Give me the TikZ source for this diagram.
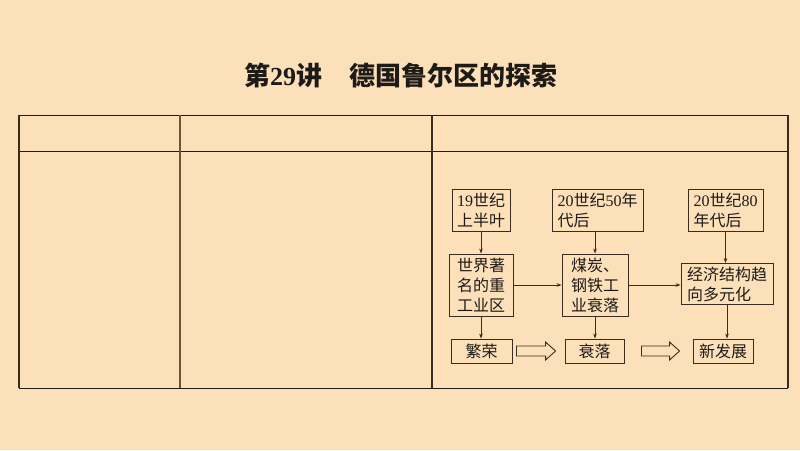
\documentclass[tikz,border=0pt]{standalone}
\usepackage{fontspec}
\setmainfont{Liberation Serif}
\newfontfamily\cjk{Noto Sans CJK SC}
\usetikzlibrary{arrows.meta,calc}
\definecolor{bg}{HTML}{FCE0BA}
\definecolor{ink}{HTML}{1E1A16}
\definecolor{boxline}{HTML}{3A2C1E}
\definecolor{vline}{HTML}{6B5535}
\begin{document}
\begin{tikzpicture}[x=1pt,y=-1pt,
  fbox/.style={draw=boxline,line width=0.9pt,text=ink,align=left,inner sep=0pt,
    font=\cjk\fontsize{16}{20}\selectfont},
  conn/.style={draw=boxline,line width=0.8pt,-{Stealth[length=5pt,width=3.6pt]}},
  hline/.style={draw=ink,line width=0.8pt},
  vrule/.style={draw=vline,line width=1.3pt},
  hollow/.style={draw=boxline,line width=0.9pt,fill=bg}
]
\fill[bg] (0,0) rectangle (800,450);
\useasboundingbox (0,0) rectangle (800,450);
% title
\node[text=ink,font=\cjk\bfseries\fontsize{26}{30}\selectfont] (title) at (401,76)
  {第{\rmfamily\bfseries 29}讲\hspace{28pt}德国鲁尔区的探索};
% table
\draw[hline] (19,115) -- (788,115);
\draw[hline] (19,151) -- (788,151);
\draw[hline] (19,388) -- (788,388);
\draw[vrule,draw=boxline] (19,115) -- (19,388);
\draw[vrule] (180,115) -- (180,388);
\draw[vrule,draw=boxline] (432,115) -- (432,388);
\draw[vrule,draw=boxline] (788,115) -- (788,388);
% boxes
\node[fbox,minimum width=58,minimum height=42] (A) at (481,210) {{\rmfamily 19}世纪\\上半叶};
\node[fbox,minimum width=91,minimum height=42] (B) at (597.5,210) {{\rmfamily 20}世纪{\rmfamily 50}年\\代后};
\node[fbox,minimum width=75,minimum height=42] (C) at (725.5,210) {{\rmfamily 20}世纪{\rmfamily 80}\\年代后};
\node[fbox,minimum width=64,minimum height=62] (D) at (481,285) {世界著\\名的重\\工业区};
\node[fbox,minimum width=66,minimum height=62] (E) at (595,285) {煤炭、\\钢铁工\\业衰落};
\node[fbox,minimum width=92,minimum height=41] (F) at (727,284) {经济结构趋\\向多元化};
\node[fbox,minimum width=61,minimum height=24] (G) at (481.5,351) {繁荣};
\node[fbox,minimum width=59,minimum height=24] (H) at (594.5,351) {衰落};
\node[fbox,minimum width=60,minimum height=24] (I) at (723,351) {新发展};
% connectors
\draw[conn] (A.south) -- (D.north);
\draw[conn] (E.north |- B.south) -- (E.north);
\draw[conn] (C.south) -- (C.south |- F.north);
\draw[conn] (D.east) -- (E.west);
\draw[conn] (E.east) -- (E.east -| F.west);
\draw[conn] (D.south) -- (D.south |- G.north);
\draw[conn] (E.south) -- (E.south |- H.north);
\draw[conn] (F.south) -- (F.south |- I.north);
% hollow arrows
\coordinate (h1s) at ($(G.east)+(4,0)$);
\coordinate (h1e) at ($(H.west)+(-9,0)$);
\coordinate (h2s) at ($(H.east)+(17,0)$);
\coordinate (h2e) at ($(I.west)+(-13,0)$);
\draw[hollow] (h1s) ++(0,-5) -- ($(h1e)+(-10,-5)$) -- ($(h1e)+(-10,-9)$) -- (h1e)
  -- ($(h1e)+(-10,9)$) -- ($(h1e)+(-10,5)$) -- ($(h1s)+(0,5)$) -- cycle;
\draw[hollow] (h2s) ++(0,-5) -- ($(h2e)+(-10,-5)$) -- ($(h2e)+(-10,-9)$) -- (h2e)
  -- ($(h2e)+(-10,9)$) -- ($(h2e)+(-10,5)$) -- ($(h2s)+(0,5)$) -- cycle;
\end{tikzpicture}
\end{document}
